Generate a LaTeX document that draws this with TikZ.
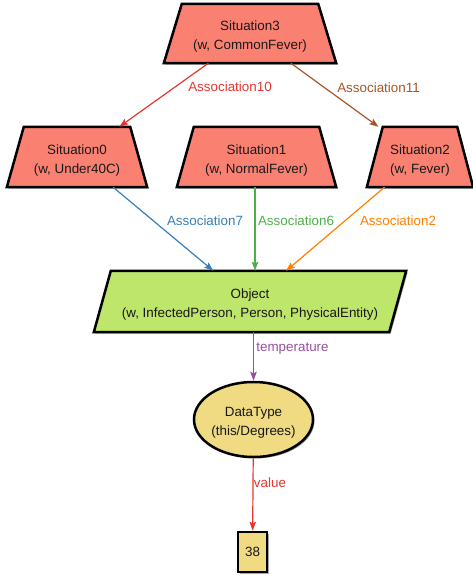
\documentclass[tikz,border=0pt]{standalone}
\usepackage{fontspec}
\setmainfont{Liberation Sans}
\usetikzlibrary{shapes.geometric,arrows.meta,backgrounds,shadows}

\definecolor{sitfill}{HTML}{FA8072}
\definecolor{objfill}{HTML}{BEE66A}
\definecolor{dtfill}{HTML}{F0DA82}
\definecolor{cRed}{HTML}{E8352F}
\definecolor{cBrown}{HTML}{A65628}
\definecolor{cBlue}{HTML}{377EB8}
\definecolor{cGreen}{HTML}{4DAF4A}
\definecolor{cOrange}{HTML}{FF7F00}
\definecolor{cPurple}{HTML}{984EA3}
\colorlet{shadowc}{black!35}

% two centred text lines, drawn a little lower than the box centre
\newcommand\twoln[2]{\raisebox{-3pt}[\height][\depth]{\begin{tabular}{@{}c@{}}#1\\#2\end{tabular}}}

% trapezoid outline around a placeholder node: #1 node, #2 inset of top corners, #3 fill
\newcommand\drawtrap[3]{%
  \fill[shadowc] ([shift={(1.5,1.5)}]#1.south west) -- ([shift={(#2+1.5,1.5)}]#1.north west)
    -- ([shift={(-#2+1.5,1.5)}]#1.north east) -- ([shift={(1.5,1.5)}]#1.south east) -- cycle;
  \filldraw[shapeline, fill=#3] (#1.south west) -- ([xshift=#2]#1.north west)
    -- ([xshift=-#2]#1.north east) -- (#1.south east) -- cycle;
}

\begin{document}
\begin{tikzpicture}[x=1pt, y=-1pt,
  txt/.style={font=\fontsize{13.4}{18.7}\selectfont, align=center, text=black!90},
  hold/.style={txt, rectangle, inner sep=0pt, outer sep=1.2pt},
  shapeline/.style={draw=black, line width=2.5pt, line join=miter},
  lbl/.style={font=\fontsize{13.4}{16}\selectfont, inner sep=0pt},
  e/.style={line width=1.2pt, -{Stealth[length=9pt, width=6.5pt, inset=1.5pt]}},
  shade/.style={drop shadow={shadow xshift=1.5pt, shadow yshift=-1.5pt, fill=shadowc, opacity=1}},
]
\useasboundingbox (0,0) rectangle (473,575);

% situations
\node[hold, minimum width=170, minimum height=57] (s3) at (250,33.5) {\twoln{Situation3}{(w, CommonFever)}};
\node[hold, minimum width=138, minimum height=58] (s0) at (77,157) {\twoln{Situation0}{(w, Under40C)}};
\node[hold, minimum width=157, minimum height=58] (s1) at (256.5,157) {\twoln{Situation1}{(w, NormalFever)}};
\node[hold, minimum width=104, minimum height=58] (s2) at (420,157) {\twoln{Situation2}{(w, Fever)}};

% object
\node[hold, minimum width=310, minimum height=59] (obj) at (250,301.5) {\twoln{Object}{(w, InfectedPerson, Person, PhysicalEntity)}};

% data type and value
\node[txt, ellipse, shapeline, fill=dtfill, shade, inner sep=0pt,
      minimum width=117, minimum height=75] (dt) at (253.5,419.5) {\twoln{DataType}{(this/Degrees)}};
\node[txt, rectangle, shapeline, fill=dtfill, shade, inner sep=0pt,
      minimum width=29, minimum height=40] (val) at (252.5,552) {38};

\begin{scope}[on background layer]
  \drawtrap{s3}{18}{sitfill}
  \drawtrap{s0}{17}{sitfill}
  \drawtrap{s1}{17}{sitfill}
  \drawtrap{s2}{16}{sitfill}
  \fill[shadowc] ([shift={(1.5,1.5)}]obj.south west) -- ([shift={(18.5,1.5)}]obj.north west)
    -- ([shift={(1.5,1.5)}]obj.north east) -- ([shift={(-15.5,1.5)}]obj.south east) -- cycle;
  \filldraw[shapeline, fill=objfill] (obj.south west) -- ([xshift=17]obj.north west)
    -- (obj.north east) -- ([xshift=-17]obj.south east) -- cycle;
\end{scope}

% connectors
\draw[e, cRed] (s3) -- (s0);
\draw[e, cBrown] (s3) -- (s2);
\draw[e, cBlue] (s0) -- (obj);
\draw[e, cGreen] ([xshift=-1.5]s1.south) -- ([xshift=-1.5]s1.south |- obj.north);
\draw[e, cOrange] (s2) -- (obj);
\draw[e, cPurple] (dt |- obj.south) -- (dt.north);
\draw[e, cRed] (dt) -- (val);

% connector labels
\node[lbl, text=cRed] (l10) at (230,87) {Association10};
\node[lbl, text=cBrown] (l11) at (378.5,88) {Association11};
\node[lbl, text=cBlue] (l7) at (205,221) {Association7};
\node[lbl, text=cGreen] (l6) at (296,221) {Association6};
\node[lbl, text=cOrange] (l2) at (398,221) {Association2};
\node[lbl, text=cPurple] (lt) at (292.5,349) {temperature};
\node[lbl, text=cRed] (lv) at (270,483) {value};
\end{tikzpicture}
\end{document}
